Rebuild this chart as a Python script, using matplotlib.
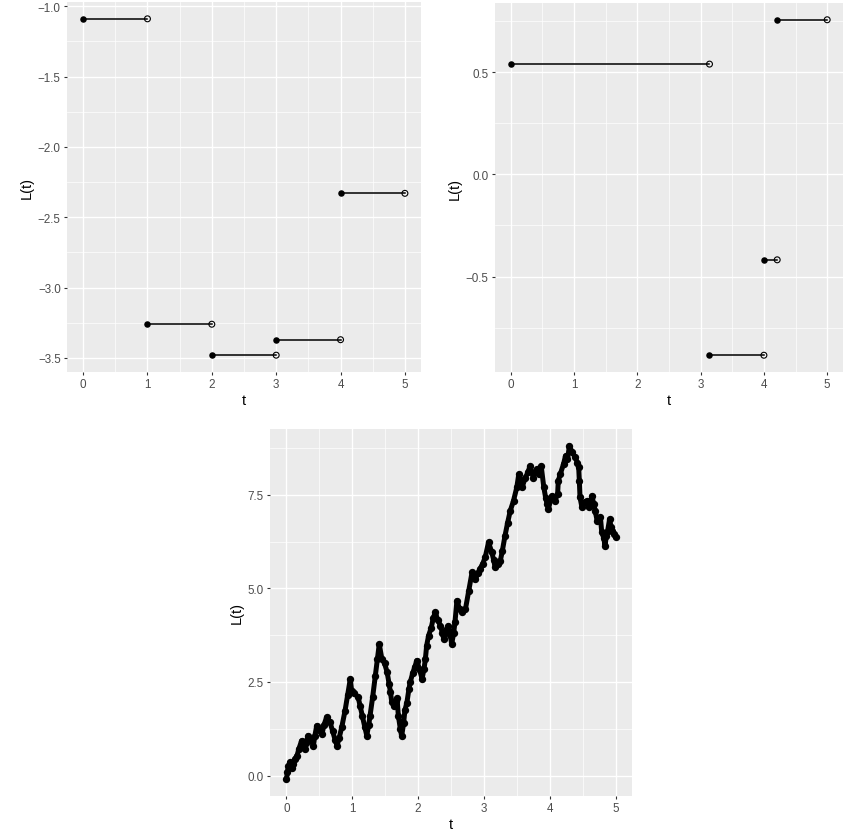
import numpy as np
import matplotlib
matplotlib.use("Agg")
import matplotlib.pyplot as plt
from matplotlib.ticker import MultipleLocator

plt.rcParams['font.family'] = ['Liberation Sans', 'DejaVu Sans']

# =========================
# data
# =========================
# panel 1: jumps at integer times
jump_t1 = [0, 1, 2, 3, 4, 5]
level1 = [-1.09, -3.26, -3.48, -3.37, -2.33]

# panel 2: jumps at random times
jump_t2 = [0, 3.14, 4.0, 4.21, 5.0]
level2 = [0.54, -0.885, -0.418, 0.757]

# panel 3: path
path_t = [0.00, 0.015, 0.03, 0.056, 0.08, 0.106, 0.13, 0.16, 0.19, 0.23,
          0.26, 0.28, 0.30, 0.33, 0.37, 0.41, 0.43, 0.46, 0.50, 0.54,
          0.57, 0.61, 0.66, 0.70, 0.74, 0.77, 0.80, 0.84, 0.89, 0.93,
          0.97, 0.99, 1.03, 1.09, 1.12, 1.15, 1.19, 1.22, 1.25, 1.27,
          1.31, 1.35, 1.38, 1.41, 1.45, 1.49, 1.53, 1.56, 1.58, 1.60,
          1.63, 1.66, 1.68, 1.70, 1.73, 1.75, 1.78, 1.80, 1.83, 1.86,
          1.88, 1.92, 1.95, 1.98, 2.02, 2.06, 2.09, 2.11, 2.13, 2.16,
          2.20, 2.23, 2.26, 2.30, 2.34, 2.37, 2.39, 2.43, 2.46, 2.49,
          2.51, 2.54, 2.56, 2.59, 2.63, 2.67, 2.72, 2.77, 2.82, 2.87,
          2.91, 2.94, 2.98, 3.02, 3.07, 3.12, 3.15, 3.17, 3.21, 3.25,
          3.28, 3.32, 3.36, 3.40, 3.45, 3.50, 3.53, 3.58, 3.63, 3.67,
          3.70, 3.75, 3.80, 3.84, 3.87, 3.91, 3.94, 3.96, 3.98, 4.03,
          4.08, 4.12, 4.13, 4.16, 4.21, 4.24, 4.27, 4.30, 4.34, 4.39,
          4.42, 4.44, 4.45, 4.46, 4.49, 4.53, 4.57, 4.59, 4.62, 4.64,
          4.67, 4.69, 4.72, 4.77, 4.79, 4.82, 4.84, 4.86, 4.88, 4.91,
          4.93, 4.95, 4.98, 5.00]
path_L = [-0.10, 0.09, 0.25, 0.36, 0.20, 0.31, 0.45, 0.53, 0.72, 0.93,
          0.80, 0.71, 0.88, 1.07, 0.95, 0.80, 1.05, 1.33, 1.22, 1.11,
          1.35, 1.56, 1.43, 1.20, 0.95, 0.80, 1.00, 1.29, 1.73, 2.15,
          2.58, 2.27, 2.20, 2.09, 1.85, 1.60, 1.30, 1.07, 1.35, 1.60,
          2.10, 2.67, 3.10, 3.51, 3.11, 3.00, 2.76, 2.45, 2.23, 1.96,
          1.87, 2.00, 2.07, 1.60, 1.25, 1.05, 1.40, 1.75, 1.95, 2.30,
          2.49, 2.75, 2.90, 3.07, 2.85, 2.58, 2.85, 3.10, 3.47, 3.74,
          3.95, 4.20, 4.36, 4.15, 4.00, 3.80, 3.65, 3.90, 4.00, 3.75,
          3.51, 3.80, 4.09, 4.67, 4.45, 4.36, 4.45, 4.94, 5.43, 5.25,
          5.40, 5.52, 5.65, 5.83, 6.23, 5.96, 5.75, 5.56, 5.65, 5.74,
          6.00, 6.40, 6.75, 7.07, 7.34, 7.70, 8.05, 7.70, 7.96, 8.10,
          8.27, 7.96, 8.19, 8.05, 8.27, 7.70, 7.40, 7.25, 7.12, 7.47,
          7.34, 7.52, 7.87, 8.05, 8.32, 8.54, 8.45, 8.81, 8.63, 8.50,
          8.35, 8.23, 7.87, 7.43, 7.16, 7.30, 7.34, 7.16, 7.30, 7.47,
          7.25, 7.07, 6.81, 6.90, 6.50, 6.35, 6.14, 6.40, 6.54, 6.85,
          6.65, 6.54, 6.45, 6.36]

# =========================
# ggplot-like style
# =========================
BG = '#EBEBEB'
TXT = '#4D4D4D'


def gg_axes(ax, xmaj, ymaj, xmin_loc, ymin_loc):
    ax.set_facecolor(BG)
    for sp in ax.spines.values():
        sp.set_visible(False)
    ax.xaxis.set_major_locator(MultipleLocator(xmaj))
    ax.yaxis.set_major_locator(MultipleLocator(ymaj))
    ax.xaxis.set_minor_locator(MultipleLocator(xmin_loc))
    ax.yaxis.set_minor_locator(MultipleLocator(ymin_loc))
    ax.grid(True, which='major', color='white', linewidth=1.0)
    ax.grid(True, which='minor', color='white', linewidth=0.5)
    ax.set_axisbelow(True)
    ax.tick_params(which='major', direction='out', length=2.5, width=0.8,
                   color='#333333', labelcolor=TXT, labelsize=8.4, pad=2)
    ax.tick_params(which='minor', length=0)
    ax.set_xlabel('t', fontsize=10.5, labelpad=2)
    ax.set_ylabel('L(t)', fontsize=10.5, labelpad=3)


def fmt_ticks(ax, nd):
    ax.xaxis.set_major_formatter(plt.FuncFormatter(lambda v, p: f"{v:.0f}"))
    ax.yaxis.set_major_formatter(
        plt.FuncFormatter(lambda v, p: f"{v:.{nd}f}".replace('-', '\u2212')))


def expand(lo, hi, f=0.05):
    d = (hi - lo) * f
    return lo - d, hi + d


def step_panel(ax, jt, lv):
    for i, v in enumerate(lv):
        ax.plot([jt[i], jt[i + 1]], [v, v], color='black', linewidth=1.1,
                zorder=2)
    ax.scatter(jt[:-1], lv, s=22, color='black', zorder=3, linewidths=0)
    ax.scatter(jt[1:], lv, s=18, facecolors='none', edgecolors='black',
               linewidths=0.8, zorder=3)
    ax.set_xlim(*expand(min(jt), max(jt)))
    ax.set_ylim(*expand(min(lv), max(lv)))


fig = plt.figure(figsize=(8.43, 8.37), dpi=100)
W, H = 843, 837


def add_ax(x0, y0, x1, y1):
    return fig.add_axes([x0 / W, 1 - y1 / H, (x1 - x0) / W, (y1 - y0) / H])


# panel 1
ax1 = add_ax(67, 3, 421, 373)
gg_axes(ax1, 1, 0.5, 0.5, 0.25)
step_panel(ax1, jump_t1, level1)
fmt_ticks(ax1, 1)

# panel 2
ax2 = add_ax(495, 4, 843, 373)
gg_axes(ax2, 1, 0.5, 0.5, 0.25)
step_panel(ax2, jump_t2, level2)
fmt_ticks(ax2, 1)

# panel 3
ax3 = add_ax(270, 430, 632, 797)
gg_axes(ax3, 1, 2.5, 0.5, 1.25)
ax3.plot(path_t, path_L, color='black', linewidth=3.6,
         solid_capstyle='round', solid_joinstyle='round', zorder=2)
ax3.scatter(path_t, path_L, s=28, color='black', linewidths=0, zorder=3)
ax3.set_xlim(*expand(min(path_t), max(path_t)))
ax3.set_ylim(*expand(min(path_L), max(path_L)))
fmt_ticks(ax3, 1)

fig.savefig('out.png', dpi=100)
